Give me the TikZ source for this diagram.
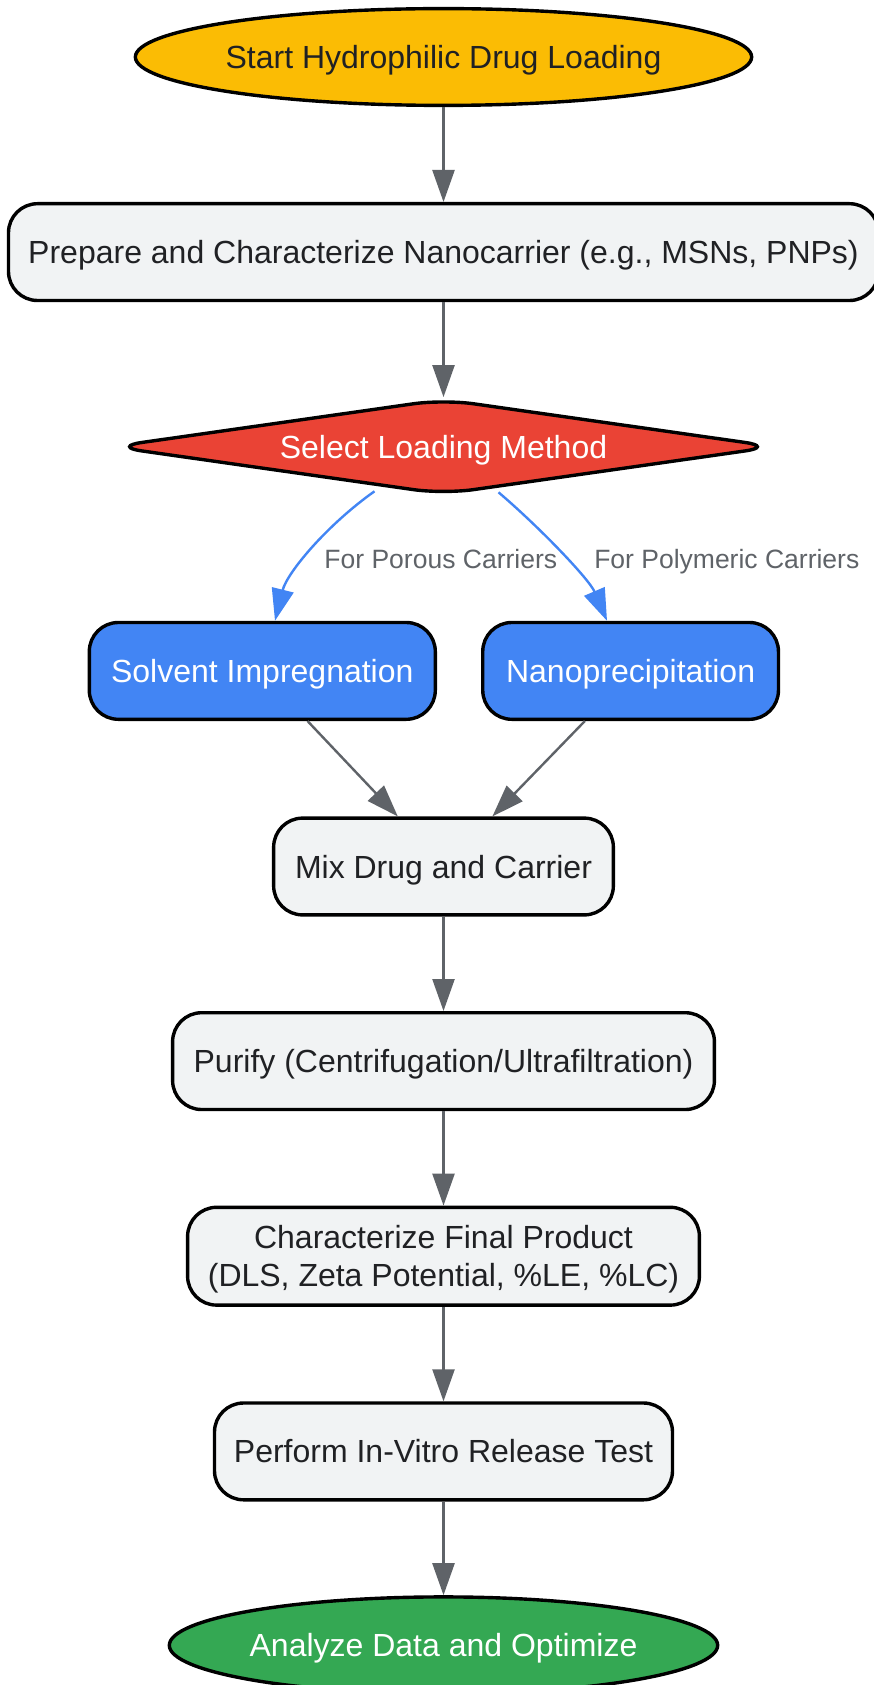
\documentclass[tikz,border=0pt]{standalone}
\usepackage{fontspec}
\setmainfont{Liberation Sans}
\usetikzlibrary{shapes.geometric,arrows.meta,calc}
\definecolor{cyellow}{HTML}{FBBC04}
\definecolor{cgray}{HTML}{F1F3F4}
\definecolor{cred}{HTML}{EA4335}
\definecolor{cblue}{HTML}{4285F4}
\definecolor{cgreen}{HTML}{34A853}
\definecolor{cedge}{HTML}{5F6368}
\definecolor{ctext}{HTML}{202124}
\begin{document}
\begin{tikzpicture}[x=1pt,y=-1pt,
  base/.style={draw=black, line width=3.4pt, font=\fontsize{32}{38.4}\selectfont, inner sep=0pt, text height=29pt, text depth=6pt},
  proc/.style={base, rectangle, rounded corners=29pt, fill=cgray, text=ctext, minimum height=96.8pt},
  method/.style={base, rectangle, rounded corners=29pt, fill=cblue, text=white, minimum height=96.8pt},
  term/.style={base, ellipse, minimum height=96.8pt},
  decision/.style={base, diamond, rounded corners=30pt, fill=cred, text=white, aspect=7, minimum width=664pt, minimum height=95.8pt},
  flow/.style={draw=cedge, line width=2.4pt, -{Triangle[length=32pt,width=22pt]}},
  branch/.style={draw=cblue, line width=2.4pt, -{Triangle[length=32pt,width=22pt]}},
  elabel/.style={font=\fontsize{26.5}{32}\selectfont, text=cedge, inner sep=0pt, text height=19.5pt, text depth=0pt},
]
\useasboundingbox (0,0) rectangle (873,1685);
\fill[white] (0,0) rectangle (873,1685);

\node[term, fill=cyellow, text=ctext, minimum width=611.7pt] (start) at (443.5,57) {Start Hydrophilic Drug Loading};
\node[proc, minimum width=870pt] (prep) at (443.5,252.1) {Prepare and Characterize Nanocarrier (e.g., MSNs, PNPs)};
\node[decision] (sel) at (443.5,446.7) {Select Loading Method};
\node[method, minimum width=346pt] (solv) at (262.3,670.9) {Solvent Impregnation};
\node[method, minimum width=295.7pt] (nano) at (630.6,670.9) {Nanoprecipitation};
\node[proc, minimum width=339.7pt] (mix) at (443.5,866.5) {Mix Drug and Carrier};
\node[proc, minimum width=541.8pt] (pur) at (443.5,1061.1) {Purify (Centrifugation/Ultrafiltration)};
\node[proc, minimum width=511.8pt, minimum height=97.8pt, text height=67.4pt] (char) at (443.5,1256.2) {\begin{tabular}[b]{@{}c@{}}Characterize Final Product\\(DLS, Zeta Potential, \%LE, \%LC)\end{tabular}};
\node[proc, minimum width=458pt] (perf) at (443.5,1451.4) {Perform In-Vitro Release Test};
\node[term, fill=cgreen, text=white, minimum width=548.3pt] (ana) at (443.5,1645.3) {Analyze Data and Optimize};

\draw[flow] (start) -- (prep);
\draw[flow] (prep) -- (sel);
\draw[branch] ($(sel.south)+(-69,-5)$) .. controls +(-48,34) and +(12,-48) .. ([xshift=12.7pt]solv.north);
\draw[branch] ($(sel.south)+(55,-4)$) .. controls +(40,34) and +(-18,-42) .. ([xshift=-23.6pt]nano.north);
\node[elabel] (l1) at (440.8,559) {For Porous Carriers};
\node[elabel] (l2) at (726.8,559) {For Polymeric Carriers};
\draw[flow] ([xshift=45.2pt]solv.south) -- ([xshift=-45.7pt]mix.north);
\draw[flow] ([xshift=-45.7pt]nano.south) -- ([xshift=48.9pt]mix.north);
\draw[flow] (mix) -- (pur);
\draw[flow] (pur) -- (char);
\draw[flow] (char) -- (perf);
\draw[flow] (perf) -- (ana);
\end{tikzpicture}
\end{document}
